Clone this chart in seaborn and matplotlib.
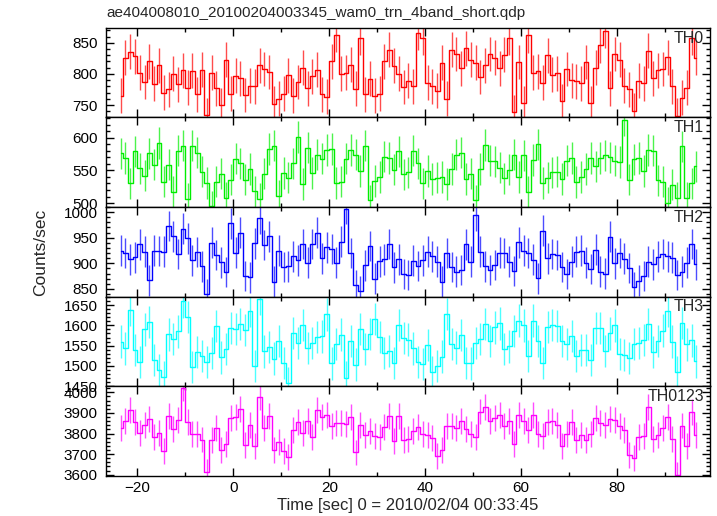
import numpy as np
import matplotlib
matplotlib.use('Agg')
import matplotlib.pyplot as plt
from matplotlib.ticker import MultipleLocator
import seaborn as sns

# bin centres [sec], 1 s bins
time = np.arange(-23.5, 97.0, 1.0)

th0 = [765, 826, 836, 828, 802, 787, 820, 784, 814, 770,
       775, 800, 783, 806, 778, 805, 767, 807, 734, 802,
       777, 750, 823, 768, 797, 793, 766, 781, 780, 814,
       808, 803, 752, 760, 768, 798, 765, 787, 810, 777,
       796, 807, 767, 763, 820, 863, 800, 802, 815, 776,
       858, 767, 792, 765, 768, 820, 839, 813, 800, 779,
       789, 780, 866, 858, 786, 780, 773, 818, 760, 839,
       832, 809, 841, 823, 818, 795, 814, 832, 826, 809,
       831, 858, 738, 819, 753, 862, 802, 804, 786, 830,
       799, 801, 756, 808, 790, 788, 785, 819, 753, 810,
       846, 869, 777, 832, 823, 781, 775, 741, 789, 785,
       837, 793, 806, 808, 827, 780, 733, 762, 778, 858,
       826]

th1 = [576, 569, 530, 579, 553, 542, 576, 559, 592, 533,
       559, 517, 580, 588, 506, 588, 577, 548, 531, 495,
       533, 545, 508, 536, 568, 561, 536, 552, 518, 507,
       545, 583, 588, 511, 546, 539, 561, 601, 529, 585,
       546, 574, 568, 581, 583, 531, 533, 568, 581, 574,
       549, 588, 504, 534, 540, 571, 569, 551, 579, 544,
       547, 580, 561, 530, 549, 537, 539, 540, 529, 552,
       574, 577, 537, 545, 504, 552, 589, 565, 564, 554,
       538, 551, 574, 540, 573, 517, 566, 590, 531, 539,
       547, 548, 537, 565, 569, 532, 540, 552, 569, 556,
       569, 573, 570, 565, 563, 627, 536, 567, 569, 549,
       581, 580, 535, 533, 500, 528, 508, 587, 508, 530,
       556]

th2 = [925, 920, 908, 912, 937, 923, 867, 925, 924, 923,
       973, 953, 918, 968, 949, 906, 922, 894, 840, 940,
       916, 902, 883, 978, 921, 960, 875, 873, 939, 988,
       936, 953, 864, 925, 893, 894, 914, 906, 938, 901,
       938, 960, 910, 931, 928, 901, 942, 1006, 920, 857,
       846, 896, 934, 870, 904, 908, 938, 892, 908, 879,
       877, 905, 895, 906, 923, 914, 903, 864, 920, 893,
       884, 887, 937, 903, 994, 923, 894, 887, 897, 921,
       920, 903, 885, 941, 925, 920, 907, 871, 964, 910,
       918, 916, 893, 879, 903, 923, 925, 901, 889, 927,
       884, 880, 952, 900, 920, 909, 891, 853, 866, 875,
       903, 898, 913, 918, 914, 911, 877, 884, 901, 938,
       898]

th3 = [1560, 1543, 1638, 1539, 1510, 1590, 1608, 1515, 1489, 1473,
       1578, 1566, 1585, 1659, 1621, 1498, 1534, 1525, 1510, 1532,
       1598, 1521, 1542, 1594, 1591, 1603, 1588, 1635, 1500, 1665,
       1536, 1546, 1518, 1561, 1507, 1457, 1581, 1557, 1601, 1544,
       1556, 1572, 1573, 1627, 1506, 1554, 1577, 1471, 1562, 1503,
       1591, 1542, 1579, 1616, 1572, 1532, 1537, 1507, 1601, 1569,
       1565, 1543, 1509, 1505, 1552, 1484, 1500, 1523, 1628, 1554,
       1545, 1576, 1507, 1506, 1556, 1566, 1604, 1562, 1595, 1605,
       1542, 1548, 1586, 1612, 1600, 1525, 1612, 1562, 1507, 1596,
       1601, 1599, 1562, 1554, 1574, 1524, 1539, 1539, 1514, 1594,
       1593, 1537, 1580, 1600, 1530, 1527, 1519, 1554, 1557, 1564,
       1603, 1535, 1562, 1587, 1635, 1560, 1484, 1606, 1553, 1563,
       1511]

th0123 = [3826, 3861, 3913, 3857, 3803, 3841, 3871, 3782, 3803, 3716,
          3885, 3821, 3867, 4021, 3854, 3797, 3800, 3771, 3615, 3767,
          3826, 3718, 3751, 3875, 3880, 3920, 3746, 3841, 3738, 3977,
          3826, 3887, 3720, 3757, 3715, 3684, 3815, 3854, 3803, 3862,
          3782, 3915, 3880, 3892, 3838, 3851, 3849, 3846, 3879, 3708,
          3843, 3792, 3812, 3789, 3782, 3831, 3885, 3762, 3887, 3767,
          3774, 3812, 3833, 3797, 3792, 3780, 3693, 3721, 3836, 3838,
          3825, 3861, 3821, 3797, 3784, 3907, 3931, 3861, 3874, 3890,
          3836, 3861, 3748, 3890, 3862, 3816, 3890, 3800, 3787, 3854,
          3862, 3841, 3739, 3800, 3854, 3767, 3792, 3767, 3800, 3877,
          3851, 3841, 3869, 3867, 3838, 3816, 3698, 3682, 3784, 3787,
          3928, 3774, 3795, 3825, 3882, 3774, 3600, 3839, 3741, 3903,
          3792]

bands = ['TH0', 'TH1', 'TH2', 'TH3', 'TH0123']
rates = [th0, th1, th2, th3, th0123]
errors = [28, 24, 30, 40, 63]          # typical 1-sigma error per band
colors = ['#ff0000', '#00ee00', '#0000ff', '#00ffff', '#ff00ff']
ylims = [(730, 874), (494, 631), (835, 1010), (1450, 1671), (3595, 4030)]
minor_step = [10, 10, 10, 10, 20]
major_step = [50, 50, 50, 50, 100]

sns.set_style('ticks')
plt.rcParams['font.family'] = ['Liberation Sans', 'DejaVu Sans']

fig, axes = plt.subplots(5, 1, figsize=(7.17, 5.16), dpi=100, sharex=True)
fig.subplots_adjust(left=0.148, right=0.990, top=0.946, bottom=0.078, hspace=0)

for ax, name, vals, err, c, yl, mi, ma in zip(axes, bands, rates, errors, colors,
                                              ylims, minor_step, major_step):
    vals = np.array(vals, dtype=float)
    sns.lineplot(x=time, y=vals, ax=ax, color=c, lw=1.0, drawstyle='steps-mid',
                 estimator=None, sort=False)
    ax.vlines(time, vals - err, vals + err, color=c, lw=1.0, alpha=0.7)
    ax.set_ylim(*yl)
    ax.set_xlim(-26.5, 99.3)
    ax.yaxis.set_major_locator(MultipleLocator(ma))
    ax.yaxis.set_minor_locator(MultipleLocator(mi))
    ax.xaxis.set_major_locator(MultipleLocator(20))
    ax.xaxis.set_minor_locator(MultipleLocator(10))
    ax.tick_params(which='both', direction='in', top=True, right=True,
                   width=1, colors='black', labelsize=11)
    ax.tick_params(which='major', length=6)
    ax.tick_params(which='minor', length=3)
    ax.tick_params(axis='y', pad=6)
    ax.tick_params(axis='x', pad=4)
    for s in ax.spines.values():
        s.set_linewidth(1)
        s.set_color('black')
    ax.set_ylabel('')
    ax.text(0.99, 0.97, name, transform=ax.transAxes, ha='right', va='top',
            fontsize=11.5)

axes[-1].set_xlabel('Time [sec] 0 = 2010/02/04 00:33:45', fontsize=12, labelpad=2)
fig.text(0.056, 0.51, 'Counts/sec', rotation=90, ha='center', va='center', fontsize=12.5)
fig.text(0.148, 0.962, 'ae404008010_20100204003345_wam0_trn_4band_short.qdp',
         ha='left', va='bottom', fontsize=11)

fig.savefig('out.png', dpi=100)
